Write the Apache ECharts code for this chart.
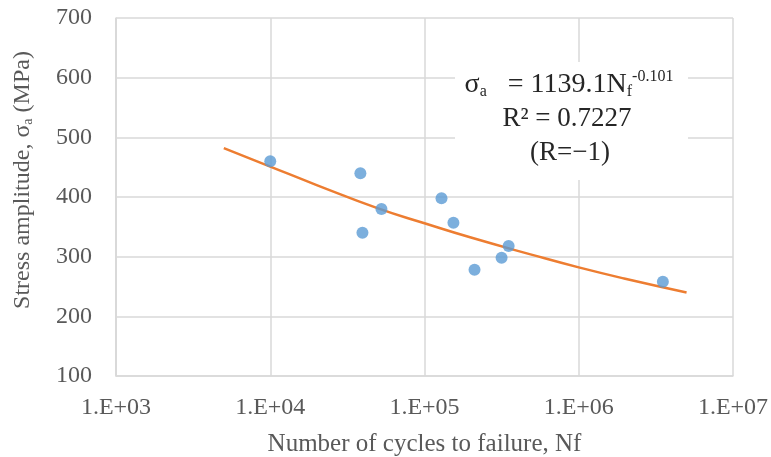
<!DOCTYPE html>
<html>
<head>
<meta charset="utf-8">
<script src="https://cdn.jsdelivr.net/npm/echarts@6/dist/echarts.min.js"></script>
<style>
  html, body { margin: 0; padding: 0; background: #fff; }
  #chart { width: 771px; height: 457px; }
</style>
</head>
<body>
<div id="chart"></div>
<script>
// measured points: cycles to failure / stress amplitude
const cycles = [10000, 38400, 39600, 52600, 128900, 154000, 211000, 316000, 351000, 3510000];
const stress = [460, 440, 340, 380, 398, 357, 278, 298, 318, 258];

// power-law trend line
const trendCycles = [5000, 10000, 20000, 50000, 100000, 200000, 500000, 1000000, 2000000, 5000000];
const trendStress = [482, 451, 420, 381, 356, 332, 303, 282, 263, 240];

const yTicks = [100, 700, 100]; // min, max, step

const serif = 'Liberation Serif';
const grey = '#595959';

const chart = echarts.init(document.getElementById('chart'));

const option = {
  animation: false,
  grid: { left: 116, right: 38, top: 18, bottom: 81, containLabel: false, outerBoundsMode: 'none' },
  xAxis: {
    type: 'log',
    logBase: 10,
    min: 1000,
    max: 10000000,
    name: 'Number of cycles to failure, Nf',
    nameLocation: 'middle',
    nameGap: 56,
    nameTextStyle: { fontFamily: serif, fontSize: 25, color: grey },
    axisLine: { lineStyle: { color: '#d9d9d9', width: 1.5 } },
    axisTick: { show: false },
    axisLabel: {
      margin: 20,
      fontFamily: serif, fontSize: 24, color: grey,
      formatter: function (v) {
        const e = Math.round(Math.log10(v));
        return '1.E+' + (e < 10 ? '0' + e : e);
      }
    },
    splitLine: { show: true, lineStyle: { color: '#d9d9d9', width: 1.5 } }
  },
  yAxis: {
    type: 'value',
    min: yTicks[0],
    max: yTicks[1],
    interval: yTicks[2],
    name: '{n|Stress amplitude, σ}{s|a}{n| (MPa)}',
    nameLocation: 'middle',
    nameGap: 81,
    nameTextStyle: {
      color: grey,
      padding: [0, 0, 0, 34],
      rich: {
        n: { fontFamily: serif, fontSize: 24, color: grey },
        s: { fontFamily: serif, fontSize: 14, color: grey, padding: [11, 0, 0, 0] }
      }
    },
    axisLine: { show: true, lineStyle: { color: '#d9d9d9', width: 1.5 } },
    axisTick: { show: false },
    axisLabel: { margin: 24, fontFamily: serif, fontSize: 24, color: grey },
    splitLine: { lineStyle: { color: '#d9d9d9', width: 1.5 } }
  },
  graphic: [
    {
      type: 'rect',
      z: 100,
      shape: { x: 455, y: 62, width: 233, height: 118 },
      style: { fill: '#fff' }
    },
    {
      type: 'text',
      z: 101,
      x: 569, y: 85,
      style: {
        text: '{n|σ}{s|a}{n|   = 1139.1N}{s|f}{p|-0.101}',
        align: 'center', verticalAlign: 'middle',
        rich: {
          n: { fontFamily: serif, fontSize: 28, fill: '#262626' },
          s: { fontFamily: serif, fontSize: 16, fill: '#262626', padding: [14, 0, 0, 0] },
          p: { fontFamily: serif, fontSize: 16, fill: '#262626', padding: [0, 0, 16, 0] }
        }
      }
    },
    {
      type: 'text',
      z: 101,
      x: 567, y: 119,
      style: {
        text: 'R² = 0.7227',
        align: 'center', verticalAlign: 'middle',
        font: '27px "Liberation Serif"', fill: '#262626'
      }
    },
    {
      type: 'text',
      z: 101,
      x: 570, y: 153,
      style: {
        text: '(R=−1)',
        align: 'center', verticalAlign: 'middle',
        font: '27px "Liberation Serif"', fill: '#262626'
      }
    }
  ],
  series: [
    {
      name: 'Trend',
      type: 'line',
      data: trendCycles.map((c, i) => [c, trendStress[i]]),
      smooth: true,
      showSymbol: false,
      lineStyle: { color: '#ed7d31', width: 2.5 },
      z: 2
    },
    {
      name: 'Data',
      type: 'scatter',
      data: cycles.map((c, i) => [c, stress[i]]),
      symbolSize: 12,
      itemStyle: { color: '#5b9bd5' },
      z: 3
    }
  ]
};

chart.setOption(option);
</script>
</body>
</html>
